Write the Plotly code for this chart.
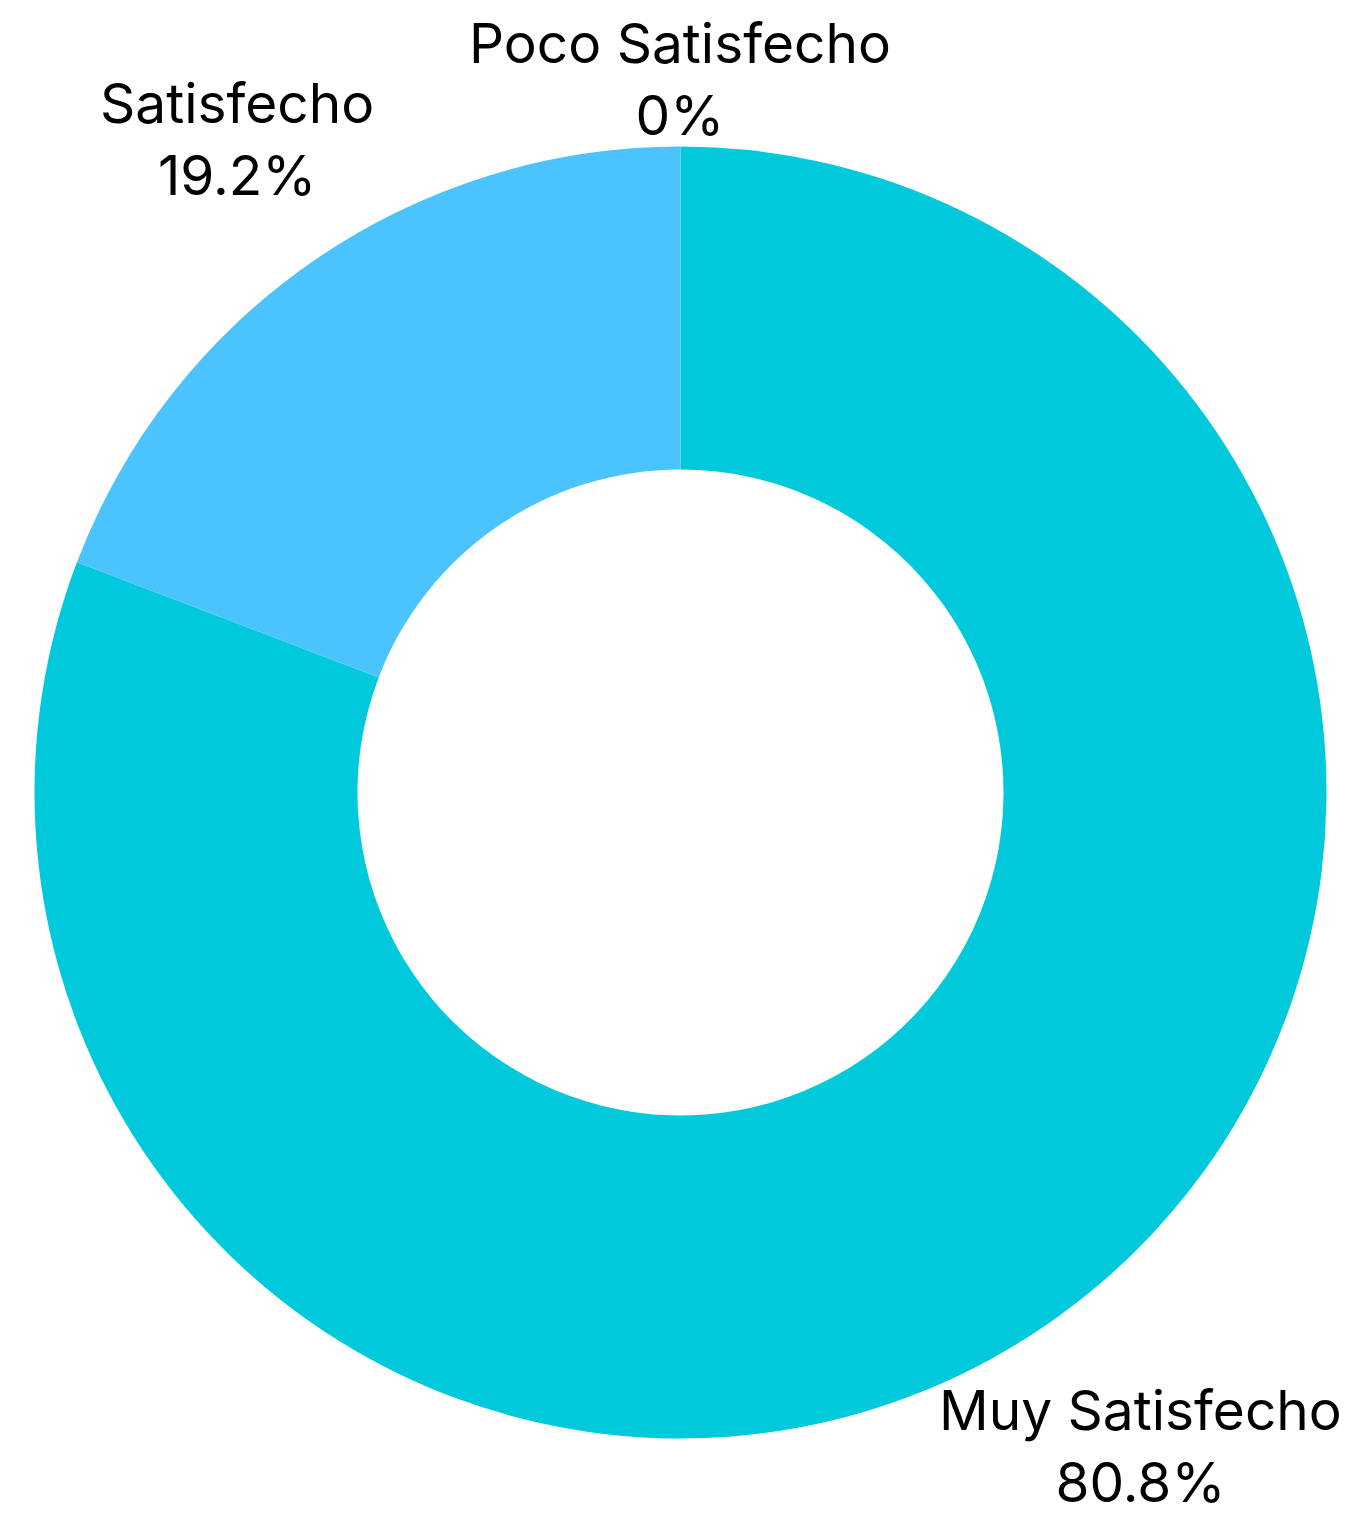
import math
import plotly.graph_objects as go

categories = ["Muy Satisfecho", "Satisfecho", "Poco Satisfecho"]
values = [80.8, 19.2, 0]
colors = ["#00C9DB", "#4BC3FF", "#8A7CF0"]

W, H = 1372, 1517
PAGE_OFF = 8               # browser body margin
VIS_H = H - PAGE_OFF
CX, CY = 680.5 - PAGE_OFF, 792.5 - PAGE_OFF   # pie centre in figure px (from top)
R = 646                    # outer radius in px
KX = 1.105                 # horizontal label radius factor (plus width term)
KY = 1.228                 # vertical label radius factor
FS = 55

fig = go.Figure(go.Pie(
    labels=categories,
    values=values,
    hole=0.5,
    sort=False,
    direction="clockwise",
    rotation=0,
    marker=dict(colors=colors, line=dict(width=0)),
    textinfo="none",
    hoverinfo="label+percent",
    showlegend=False,
    domain=dict(x=[(CX - R) / W, (CX + R) / W],
                y=[(H - CY - R) / H, (H - CY + R) / H]),
))

total = sum(values)
cum = 0.0
annotations = []
block_h = FS * 1.3 * 2
for cat, v in zip(categories, values):
    mid = (cum + v / 2) / total * 2 * math.pi
    cum += v
    vx, vy = math.sin(mid), -math.cos(mid)
    w_est = len(cat) * 0.5 * FS
    x_px = CX + vx * (KX * R + w_est / 4)
    y_px = CY + vy * KY * R
    y_px = max(y_px, block_h / 2 - 1)
    y_px = min(y_px, VIS_H - block_h / 2 + 11)
    annotations.append(dict(
        x=x_px / W, y=1 - y_px / H, xref="paper", yref="paper",
        xanchor="center", yanchor="middle", showarrow=False,
        text=f"{cat}<br>{v:g}%",
        font=dict(family="Inter", size=FS, color="#000000"),
    ))

fig.update_layout(
    width=W, height=H,
    margin=dict(l=0, r=0, t=0, b=0),
    paper_bgcolor="white",
    annotations=annotations,
)
fig.write_html("out.html")
